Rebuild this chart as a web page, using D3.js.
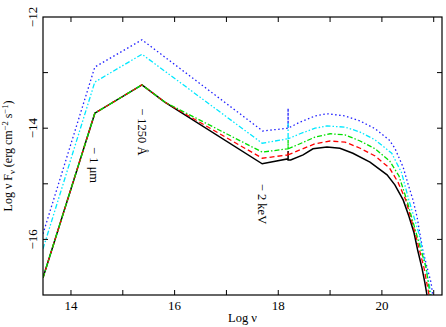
<!DOCTYPE html>
<html>
<head>
<meta charset="utf-8">
<script src="https://cdn.jsdelivr.net/npm/d3@7"></script>
<style>
  body { margin: 0; background: #fff; }
  svg { display: block; font-family: "Liberation Serif", "DejaVu Serif", serif; }
</style>
</head>
<body>
<div id="container"></div>
<script>
// log nu, log nuFnu
const blackPts = [
  [13.46, -16.69], [14.46, -13.73], [15.37, -13.22], [15.81, -13.53], [17.69, -14.64],
  [18.19, -14.55], [18.19, -14.41], [18.19, -14.57], [18.24, -14.57], [18.48, -14.48],
  [18.67, -14.37], [18.94, -14.34], [19.19, -14.36], [19.44, -14.45], [19.77, -14.61],
  [20.10, -14.84], [20.25, -15.02], [20.41, -15.29], [20.52, -15.58], [20.62, -15.88],
  [20.69, -16.19], [20.77, -16.50], [20.83, -16.78], [20.87, -17.00], [20.90, -17.20]
];
const redPts = [
  [13.46, -16.69], [14.46, -13.73], [15.37, -13.22], [15.81, -13.53], [17.69, -14.54],
  [18.19, -14.48], [18.19, -14.43], [18.19, -14.48], [18.42, -14.39], [18.71, -14.28],
  [19.00, -14.23], [19.29, -14.25], [19.58, -14.36], [19.87, -14.50], [20.15, -14.72],
  [20.31, -14.97], [20.46, -15.29], [20.64, -15.88], [20.81, -16.50], [20.91, -17.00],
  [20.94, -17.20]
];
const greenPts = [
  [13.46, -16.69], [14.46, -13.73], [15.37, -13.22], [15.81, -13.53], [17.69, -14.43],
  [18.19, -14.37], [18.19, -14.21], [18.19, -14.37], [18.42, -14.28], [18.71, -14.16],
  [19.00, -14.10], [19.29, -14.12], [19.58, -14.23], [19.87, -14.37], [20.15, -14.59],
  [20.33, -14.86], [20.48, -15.29], [20.66, -15.88], [20.85, -16.50], [20.93, -17.00],
  [20.96, -17.20]
];
const cyanPts = [
  [13.46, -16.17], [14.46, -13.17], [15.37, -12.67], [17.69, -14.27], [18.19, -14.19],
  [18.19, -13.91], [18.19, -14.19], [18.42, -14.10], [18.71, -14.00], [18.94, -13.96],
  [19.29, -13.98], [19.58, -14.07], [19.87, -14.21], [20.19, -14.45], [20.38, -14.80],
  [20.52, -15.29], [20.71, -15.88], [20.85, -16.50], [20.95, -17.00], [20.98, -17.20]
];
const bluePts = [
  [13.46, -15.90], [14.46, -12.90], [15.37, -12.41], [17.70, -14.05], [18.19, -14.00],
  [18.19, -13.64], [18.19, -14.00], [18.42, -13.89], [18.71, -13.78], [18.94, -13.74],
  [19.29, -13.78], [19.58, -13.87], [19.87, -14.01], [20.14, -14.21], [20.25, -14.36],
  [20.41, -14.70], [20.50, -14.99], [20.60, -15.29], [20.68, -15.60], [20.73, -15.88],
  [20.79, -16.19], [20.87, -16.50], [20.95, -16.78], [20.98, -17.00], [21.01, -17.20]
];

const xTicks = [14, 15, 16, 17, 18, 19, 20, 21];
const xLabels = [14, 16, 18, 20];
const yTicks = [-16, -15, -14, -13];
const yLabels = [-16, -14, -12];

// annotations: [log nu, log F, text]
const notes = [
  [14.46, -14.34, "\u2212 1 \u03bcm"],
  [15.37, -13.64, "\u2212 1250 \u00c5"],
  [17.69, -15.00, "\u2212 2 keV"]
];

const width = 446, height = 327;
const plotL = 43, plotR = 442, plotT = 17, plotB = 295;

const x = d3.scaleLinear().domain([13.46, 21.16]).range([plotL, plotR]);
const y = d3.scaleLinear().domain([-17, -12]).range([plotB, plotT]);

const svg = d3.select("#container").append("svg")
    .attr("width", width)
    .attr("height", height);

svg.append("clipPath").attr("id", "plot")
  .append("rect")
    .attr("x", plotL).attr("y", plotT)
    .attr("width", plotR - plotL).attr("height", plotB - plotT);

const line = d3.line()
    .x(d => x(d[0]))
    .y(d => y(d[1]));

const series = [
  { pts: bluePts, color: "#2020ff", dash: "1.5,2.5", w: 1.3 },
  { pts: cyanPts, color: "#00e8ff", dash: "5,2,1.5,2,1.5,2", w: 1.3 },
  { pts: blackPts, color: "#000", dash: null, w: 1.5 },
  { pts: redPts, color: "#ff0000", dash: "5,3", w: 1.3 },
  { pts: greenPts, color: "#00e000", dash: "5,2,1.5,2", w: 1.3 }
];

const g = svg.append("g").attr("clip-path", "url(#plot)");
series.forEach(s => {
  g.append("path")
      .attr("d", line(s.pts))
      .attr("fill", "none")
      .attr("stroke", s.color)
      .attr("stroke-width", s.w)
      .attr("stroke-dasharray", s.dash);
});

// ticks, inward on all four sides
const tickLen = 5;
const ticks = svg.append("g").attr("stroke", "#000").attr("stroke-width", 1);
xTicks.forEach(t => {
  ticks.append("line").attr("x1", x(t)).attr("x2", x(t)).attr("y1", plotB).attr("y2", plotB - tickLen);
  ticks.append("line").attr("x1", x(t)).attr("x2", x(t)).attr("y1", plotT).attr("y2", plotT + tickLen);
});
yTicks.forEach(t => {
  ticks.append("line").attr("y1", y(t)).attr("y2", y(t)).attr("x1", plotL).attr("x2", plotL + tickLen);
  ticks.append("line").attr("y1", y(t)).attr("y2", y(t)).attr("x1", plotR).attr("x2", plotR - tickLen);
});

svg.append("rect")
    .attr("x", plotL).attr("y", plotT)
    .attr("width", plotR - plotL).attr("height", plotB - plotT)
    .attr("fill", "none")
    .attr("stroke", "#000")
    .attr("stroke-width", 1.2);

// tick labels
svg.selectAll("text.xl")
  .data(xLabels)
  .join("text")
    .attr("class", "xl")
    .attr("x", d => x(d))
    .attr("y", 310)
    .attr("text-anchor", "middle")
    .attr("font-size", 13)
    .text(d => d);

svg.selectAll("text.yl")
  .data(yLabels)
  .join("text")
    .attr("class", "yl")
    .attr("transform", d => `translate(37,${y(d)}) rotate(-90)`)
    .attr("text-anchor", "middle")
    .attr("font-size", 13)
    .text(d => "\u2212" + Math.abs(d));

// axis titles
svg.append("text")
    .attr("x", (plotL + plotR) / 2)
    .attr("y", 322)
    .attr("text-anchor", "middle")
    .attr("font-size", 12.5)
    .text("Log \u03bd");

const yt = svg.append("text")
    .attr("transform", `translate(12,${(plotT + plotB) / 2}) rotate(-90)`)
    .attr("text-anchor", "middle")
    .attr("font-size", 12);
yt.append("tspan").text("Log \u03bd F");
yt.append("tspan").attr("font-size", 8.5).attr("dy", 2.5).text("\u03bd");
yt.append("tspan").attr("dy", -2.5).text(" (erg cm");
yt.append("tspan").attr("font-size", 8.5).attr("dy", -4.5).text("\u22122");
yt.append("tspan").attr("dy", 4.5).text(" s");
yt.append("tspan").attr("font-size", 8.5).attr("dy", -4.5).text("\u22121");
yt.append("tspan").attr("dy", 4.5).text(")");

// rotated annotations
notes.forEach(n => {
  svg.append("text")
      .attr("transform", `translate(${x(n[0])},${y(n[1])}) rotate(90)`)
      .attr("dy", "0.35em")
      .attr("font-size", 12.5)
      .text(n[2]);
});
</script>
</body>
</html>
